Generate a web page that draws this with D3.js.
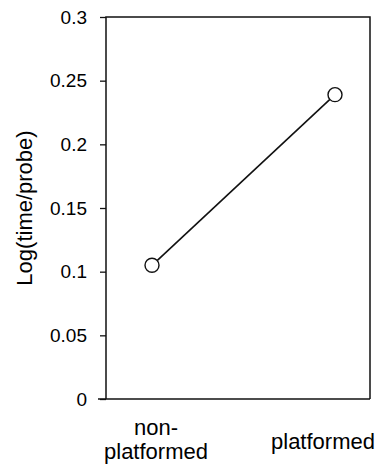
<!DOCTYPE html>
<html>
<head>
<meta charset="utf-8">
<script src="https://cdn.jsdelivr.net/npm/d3@7"></script>
<style>
  body { margin: 0; background: #fff; }
  text { font-family: "Liberation Sans", Arial, sans-serif; fill: #000; }
</style>
</head>
<body>
<div id="chart"></div>
<script>
// data
const categories = ["non-platformed", "platformed"];
const labelLines = [["non-", "platformed"], ["platformed"]];
const values = [0.105, 0.239];
const yTicks = [0, 0.05, 0.1, 0.15, 0.2, 0.25, 0.3];
const yTitle = "Log(time/probe)";

const W = 376, H = 466;
const plotL = 106, plotR = 370, plotT = 17, plotB = 399;

const svg = d3.select("#chart").append("svg")
    .attr("width", W).attr("height", H);

const y = d3.scaleLinear().domain([0, 0.3]).range([plotB, plotT]);
const x = d3.scalePoint().domain(categories).range([152, 335]);

// frame
svg.append("path")
    .attr("d", `M${plotL},${plotB}V${plotT}H${plotR}V${plotB}`)
    .attr("fill", "none").attr("stroke", "#111").attr("stroke-width", 1.5);
svg.append("line")
    .attr("x1", 98).attr("x2", plotR).attr("y1", plotB).attr("y2", plotB)
    .attr("stroke", "#111").attr("stroke-width", 1.5);

// y axis
const yAxis = svg.append("g")
    .attr("transform", `translate(${plotL},0)`)
    .call(d3.axisLeft(y).tickValues(yTicks).tickSize(6).tickPadding(13)
        .tickFormat(d => String(d)));
yAxis.select(".domain").remove();
yAxis.selectAll(".tick line").attr("stroke", "#111").attr("stroke-width", 1.3);
yAxis.selectAll(".tick text")
    .style("font-family", '"Liberation Sans", Arial, sans-serif')
    .style("font-size", "19px").attr("fill", "#000");

svg.append("text")
    .attr("transform", `translate(32,${(plotT + plotB) / 2}) rotate(-90)`)
    .attr("text-anchor", "middle")
    .style("font-size", "22px")
    .text(yTitle);

// category labels
const labelShift = [4, -12];
categories.forEach((c, i) => {
  const lines = labelLines[i];
  const t = svg.append("text")
      .attr("text-anchor", "middle")
      .style("font-size", "22px");
  const y0 = lines.length > 1 ? 435 : 449;
  lines.forEach((s, j) => {
    t.append("tspan")
      .attr("x", x(c) + labelShift[i])
      .attr("y", y0 + j * 24)
      .text(s);
  });
});

// line + markers
const pts = categories.map((c, i) => [x(c), y(values[i])]);
svg.append("path")
    .attr("d", d3.line()(pts))
    .attr("fill", "none").attr("stroke", "#111").attr("stroke-width", 1.6);
svg.selectAll("circle.pt").data(pts).join("circle")
    .attr("class", "pt")
    .attr("cx", d => d[0]).attr("cy", d => d[1]).attr("r", 7)
    .attr("fill", "#fff").attr("stroke", "#111").attr("stroke-width", 1.4);
</script>
</body>
</html>
